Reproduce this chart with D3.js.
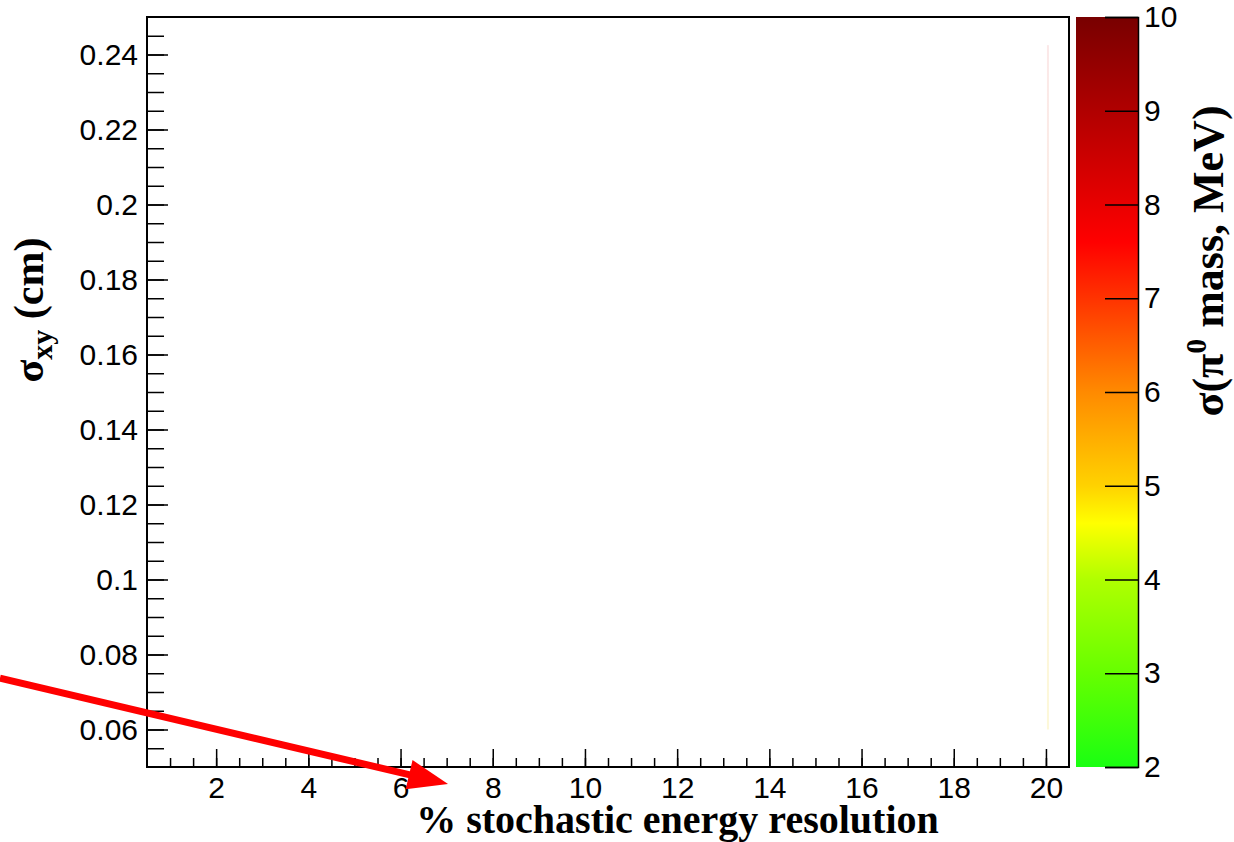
<!DOCTYPE html>
<html>
<head>
<meta charset="utf-8">
<script src="https://cdn.jsdelivr.net/npm/d3@7"></script>
<style>
  html, body { margin: 0; padding: 0; background: #fff; }
  svg { display: block; }
  .tick text { font-family: 'Liberation Sans', Arial, sans-serif; fill: #000; }
  .title { font-family: 'Liberation Serif', 'Times New Roman', serif; font-weight: bold; fill: #000; }
</style>
</head>
<body>
<div id="chart"></div>
<script>
// axis ranges and tick labels
var xDomain = [0.5, 20.5];
var yDomain = [0.05, 0.25];
var zDomain = [2, 10];
var xTickLabels = [2, 4, 6, 8, 10, 12, 14, 16, 18, 20];
var yTickLabels = [0.06, 0.08, 0.1, 0.12, 0.14, 0.16, 0.18, 0.2, 0.22, 0.24];
var zTickLabels = [2, 3, 4, 5, 6, 7, 8, 9, 10];

// palette: value -> colour
var paletteValues = [2, 3, 4, 4.6, 5, 6, 7, 7.6, 10];
var paletteColors = ['#1aff12', '#66ff00', '#b0ff00', '#ffff00', '#ffd200', '#ff8a00', '#ff3300', '#ff0000', '#780000'];

// faint column left at x = 20
var stripX = [20];
var stripY = [0.06, 0.2425];

// annotation arrow (data units)
var arrowFrom = [-2.69, 0.0737];
var arrowTo = [7.03, 0.0455];

var W = 1234, H = 842;
var fLeft = 147, fTop = 17, fRight = 1069, fBottom = 767;
var palLeft = 1076, palRight = 1138;

var svg = d3.select('#chart').append('svg')
  .attr('width', W)
  .attr('height', H);

var x = d3.scaleLinear().domain(xDomain).range([fLeft, fRight]);
var y = d3.scaleLinear().domain(yDomain).range([fBottom, fTop]);
var z = d3.scaleLinear().domain(zDomain).range([fBottom, fTop]);
var color = d3.scaleLinear().domain(paletteValues).range(paletteColors);

// faint strip
var defs = svg.append('defs');
var grad0 = defs.append('linearGradient')
  .attr('id', 'strip').attr('x1', 0).attr('x2', 0).attr('y1', 0).attr('y2', 1);
grad0.append('stop').attr('offset', '0%').attr('stop-color', '#fbe8e8');
grad0.append('stop').attr('offset', '100%').attr('stop-color', '#fdf8d8');
svg.selectAll('.strip').data(stripX).enter().append('rect')
  .attr('class', 'strip')
  .attr('x', function(d) { return x(d) + 1; })
  .attr('y', y(stripY[1]))
  .attr('width', 2)
  .attr('height', y(stripY[0]) - y(stripY[1]))
  .attr('fill', 'url(#strip)');

// y axis: minor + major
var yMinor = d3.range(0.055, 0.2476, 0.005);
svg.append('g')
  .attr('transform', 'translate(' + fLeft + ',0)')
  .call(d3.axisLeft(y).tickValues(yMinor).tickSize(-17).tickFormat(''))
  .call(function(g) { g.select('.domain').remove(); })
  .selectAll('line').attr('stroke', '#000').attr('stroke-width', 1.5);
var yAxis = svg.append('g')
  .attr('transform', 'translate(' + fLeft + ',0)')
  .call(d3.axisLeft(y).tickValues(yTickLabels).tickSize(-21).tickPadding(9)
    .tickFormat(function(d) { return d3.format('~g')(+d.toFixed(3)); }));
yAxis.select('.domain').remove();
yAxis.selectAll('line').attr('stroke', '#000').attr('stroke-width', 1.5);
yAxis.selectAll('text').style('font-size', '30px');

// x axis
var xMinor = d3.range(1, 20.01, 0.5);
svg.append('g')
  .attr('transform', 'translate(0,' + fBottom + ')')
  .call(d3.axisBottom(x).tickValues(xMinor).tickSize(-9).tickFormat(''))
  .call(function(g) { g.select('.domain').remove(); })
  .selectAll('line').attr('stroke', '#000').attr('stroke-width', 1.5);
var xAxis = svg.append('g')
  .attr('transform', 'translate(0,' + fBottom + ')')
  .call(d3.axisBottom(x).tickValues(xTickLabels).tickSize(-18).tickPadding(10));
xAxis.select('.domain').remove();
xAxis.selectAll('line').attr('stroke', '#000').attr('stroke-width', 1.5);
xAxis.selectAll('text').style('font-size', '30px');

// frame
svg.append('rect')
  .attr('x', fLeft).attr('y', fTop)
  .attr('width', fRight - fLeft).attr('height', fBottom - fTop)
  .attr('fill', 'none').attr('stroke', '#000').attr('stroke-width', 2);

// palette
var grad = defs.append('linearGradient')
  .attr('id', 'pal').attr('x1', 0).attr('x2', 0).attr('y1', 1).attr('y2', 0);
grad.selectAll('stop').data(paletteValues).enter().append('stop')
  .attr('offset', function(d) { return ((d - zDomain[0]) / (zDomain[1] - zDomain[0]) * 100) + '%'; })
  .attr('stop-color', function(d) { return color(d); });
svg.append('rect')
  .attr('x', palLeft).attr('y', z(zDomain[1]))
  .attr('width', palRight - palLeft).attr('height', z(zDomain[0]) - z(zDomain[1]))
  .attr('fill', 'url(#pal)');
var zAxis = svg.append('g')
  .attr('transform', 'translate(' + palRight + ',0)')
  .call(d3.axisRight(z).tickValues(zTickLabels).tickSize(-33).tickPadding(6));
zAxis.select('.domain').attr('stroke', '#000').attr('stroke-width', 1.5);
zAxis.selectAll('line').attr('stroke', '#000').attr('stroke-width', 1.5);
zAxis.selectAll('text').style('font-size', '30px');

// titles
svg.append('text')
  .attr('class', 'title')
  .attr('x', (418 + 937) / 2).attr('y', 833)
  .attr('text-anchor', 'middle')
  .style('font-size', '40px')
  .text('% stochastic energy resolution');

var yt = svg.append('text')
  .attr('class', 'title')
  .attr('transform', 'translate(43,310) rotate(-90)')
  .attr('text-anchor', 'middle')
  .style('font-size', '42px');
yt.append('tspan').text('σ');
yt.append('tspan').attr('dy', 9).style('font-size', '30px').text('xy');
yt.append('tspan').attr('dy', -9).text(' (cm)');

var zt = svg.append('text')
  .attr('class', 'title')
  .attr('transform', 'translate(1223,261) rotate(-90)')
  .attr('text-anchor', 'middle')
  .style('font-size', '44px');
zt.append('tspan').text('σ(π');
zt.append('tspan').attr('dy', -17).style('font-size', '30px').text('0');
zt.append('tspan').attr('dy', 17).text(' mass, MeV)');

// arrow
var ax0 = x(arrowFrom[0]), ay0 = y(arrowFrom[1]);
var ax1 = x(arrowTo[0]), ay1 = y(arrowTo[1]);
var ang = Math.atan2(ay1 - ay0, ax1 - ax0);
var headLen = 40, headHalf = 15;
var bx = ax1 - headLen * Math.cos(ang), by = ay1 - headLen * Math.sin(ang);
svg.append('line')
  .attr('x1', ax0).attr('y1', ay0)
  .attr('x2', bx + 2 * Math.cos(ang)).attr('y2', by + 2 * Math.sin(ang))
  .attr('stroke', '#ff0000').attr('stroke-width', 7);
svg.append('path')
  .attr('d', d3.line()([
    [ax1, ay1],
    [bx + headHalf * Math.sin(ang), by - headHalf * Math.cos(ang)],
    [bx - headHalf * Math.sin(ang), by + headHalf * Math.cos(ang)]
  ]) + 'Z')
  .attr('fill', '#ff0000');
</script>
</body>
</html>
